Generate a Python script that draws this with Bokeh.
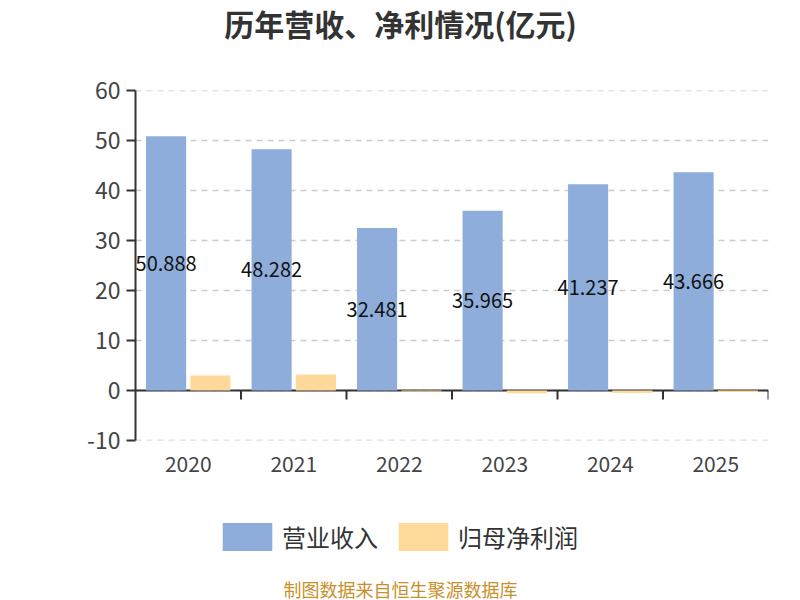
from bokeh.plotting import figure
from bokeh.layouts import column
from bokeh.models import (ColumnDataSource, FactorRange, Span, LabelSet, Label,
                          Legend, LegendItem, FixedTicker, CategoricalAxis)
from bokeh.transform import dodge
from bokeh.core.properties import value
from bokeh.embed import file_html
from bokeh.resources import INLINE

years = ["2020", "2021", "2022", "2023", "2024", "2025"]
revenue = [50.888, 48.282, 32.481, 35.965, 41.237, 43.666]
net_profit = [3.0, 3.2, -0.2, -0.55, -0.5, -0.3]
revenue_labels = ["50.888", "48.282", "32.481", "35.965", "41.237", "43.666"]
y_ticks = [-10, 0, 10, 20, 30, 40, 50, 60]

title_text = "历年营收、净利情况(亿元)"
series_names = ["营业收入", "归母净利润"]
footer_text = "制图数据来自恒生聚源数据库"

BLUE = "#8eaddb"
YELLOW = "#ffd999"
FONT = "Noto Sans CJK SC"

src = ColumnDataSource(dict(
    year=years, revenue=revenue, net=net_profit,
    half=[v / 2 for v in revenue], lbl=revenue_labels,
))


def strip(h):
    f = figure(width=800, height=h, x_range=(135, 768), y_range=(0, h),
               output_backend="svg", toolbar_location=None, title=None,
               min_border_left=135, min_border_right=32, min_border_top=0,
               min_border_bottom=0, x_axis_location=None, y_axis_location=None)
    f.outline_line_color = None
    f.xgrid.grid_line_color = None
    f.ygrid.grid_line_color = None
    f.border_fill_color = "white"
    return f


# ---------------- title strip ----------------
t = strip(44)
t.add_layout(Label(x=400, y=22, text=title_text, text_align="center",
                   text_baseline="middle", text_font=FONT, text_font_size="30px",
                   text_font_style="bold", text_color="#333333"))

# ---------------- main chart ----------------
p = figure(width=800, height=436, x_range=FactorRange(*years, range_padding=0),
           y_range=(-10.02, 60.02), output_backend="svg", toolbar_location=None,
           title=None, min_border_left=135, min_border_right=32, min_border_top=46,
           min_border_bottom=40, x_axis_location=None)
p.outline_line_color = None
p.background_fill_color = "white"
p.border_fill_color = "white"

p.xgrid.grid_line_color = None
p.ygrid.ticker = FixedTicker(ticks=y_ticks)
p.ygrid.grid_line_color = "#cccccc"
p.ygrid.grid_line_dash = "6 5"
p.ygrid.grid_line_width = 1.5

p.add_layout(Span(location=0, dimension="width", line_color="#333333",
                  line_width=2, level="underlay"))

r1 = p.vbar(x=dodge("year", -0.21, range=p.x_range), top="revenue", width=0.38,
            source=src, fill_color=BLUE, line_color=None)
r2 = p.vbar(x=dodge("year", 0.21, range=p.x_range), top="net", width=0.38,
            source=src, fill_color=YELLOW, line_color=None)

bsrc = ColumnDataSource(dict(year=years))
p.segment(x0=dodge("year", 0.5, range=p.x_range), y0=0,
          x1=dodge("year", 0.5, range=p.x_range), y1=-1.8,
          source=bsrc, line_color="#333333", line_width=2)

yax = p.yaxis[0]
yax.ticker = FixedTicker(ticks=y_ticks)
yax.major_label_overrides = {tk: str(tk) for tk in y_ticks}
yax.axis_line_color = "#333333"
yax.axis_line_width = 2
yax.major_tick_line_color = "#333333"
yax.major_tick_line_width = 2
yax.major_tick_out = 9
yax.major_tick_in = 0
yax.minor_tick_line_color = None
yax.major_label_text_font = FONT
yax.major_label_text_font_size = "23px"
yax.major_label_text_color = "#444444"
yax.major_label_standoff = 6

xax = CategoricalAxis(axis_line_color=None, major_tick_line_color=None,
                      minor_tick_line_color=None,
                      major_label_text_font=FONT,
                      major_label_text_font_size="21px",
                      major_label_text_color="#444444",
                      major_label_standoff=9)
p.add_layout(xax, "below")

labels = LabelSet(x=dodge("year", -0.21, range=p.x_range), y="half", text="lbl",
                  source=src, text_align="center", text_baseline="middle",
                  text_font=value(FONT), text_font_size=value("20px"), text_color="#111111")
p.add_layout(labels)

# ---------------- legend + footer strip ----------------
q = strip(120)
swatch = ColumnDataSource(dict(x=[float("nan")], top=[float("nan")]))
k1 = q.vbar(x="x", top="top", width=1, source=swatch, fill_color=BLUE, line_color=None)
k2 = q.vbar(x="x", top="top", width=1, source=swatch, fill_color=YELLOW, line_color=None)

legend = Legend(items=[LegendItem(label=series_names[0], renderers=[k1]),
                       LegendItem(label=series_names[1], renderers=[k2])],
                location=(81, 46), orientation="horizontal",
                glyph_width=62, glyph_height=35, label_standoff=4, spacing=14,
                padding=0, margin=0, border_line_color=None,
                background_fill_alpha=0,
                label_text_font=FONT, label_text_font_size="24px",
                label_text_color="#333333")
q.add_layout(legend)

q.add_layout(Label(x=400, y=12, text=footer_text, text_align="center",
                   text_baseline="middle", text_font=FONT, text_font_size="18px",
                   text_color="#c8902a"))

layout = column(t, p, q, spacing=0)
open("out.html", "w").write(file_html(layout, INLINE))
